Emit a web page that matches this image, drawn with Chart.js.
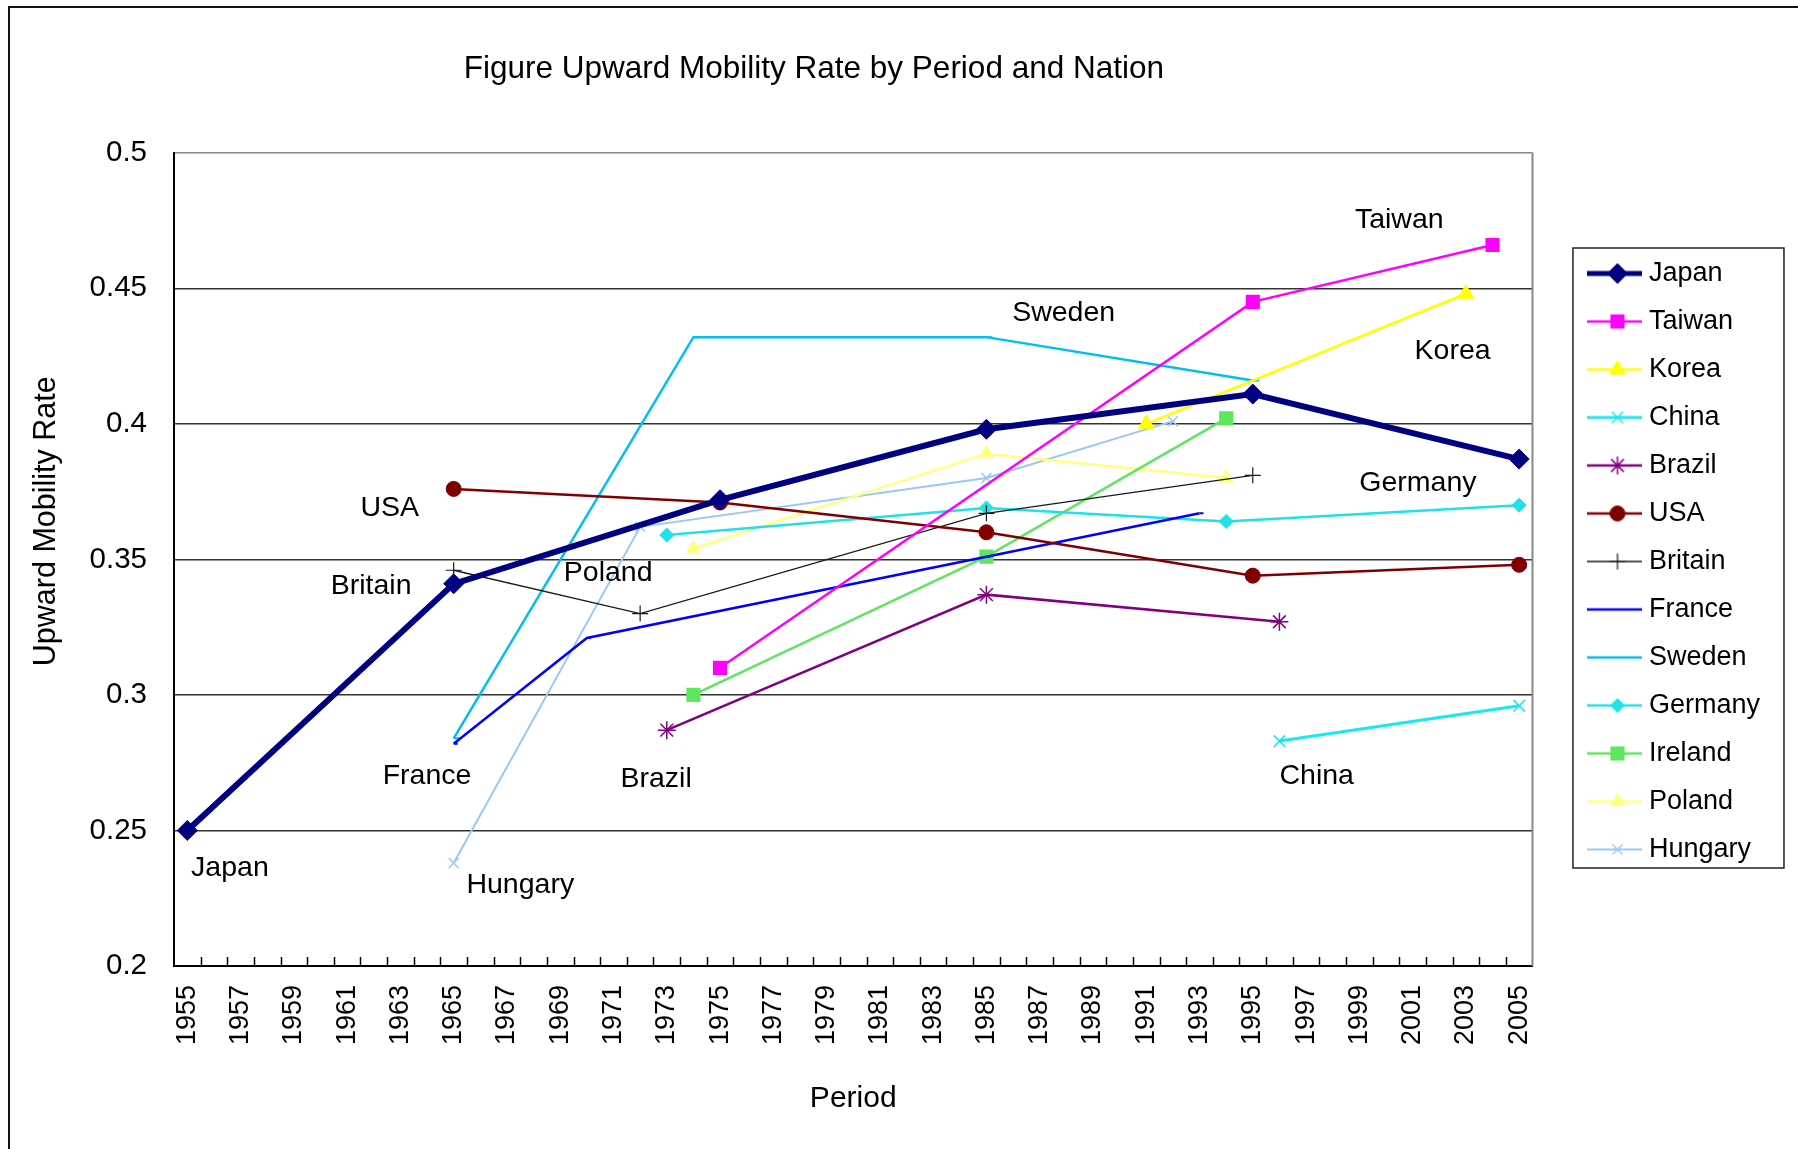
<!DOCTYPE html>
<html>
<head>
<meta charset="utf-8">
<title>Figure Upward Mobility Rate by Period and Nation</title>
<script src="https://cdn.jsdelivr.net/npm/chart.js@4.4.1/dist/chart.umd.min.js"></script>
<style>
  html, body { margin: 0; padding: 0; background: #fff; }
  #wrap { width: 1798px; height: 1149px; }
</style>
</head>
<body>
<div id="wrap"><canvas id="myChart" width="1798" height="1149"></canvas></div>
<script>
// values
const nations = ["Japan", "Taiwan", "Korea", "China", "Brazil", "USA", "Britain", "France", "Sweden", "Germany", "Ireland", "Poland", "Hungary"];

const japanYears = [1955, 1965, 1975, 1985, 1995, 2005];
const japanRates = [0.250, 0.341, 0.372, 0.398, 0.411, 0.387];
const taiwanYears = [1975, 1995, 2004];
const taiwanRates = [0.310, 0.445, 0.466];
const koreaYears = [1991, 2003];
const koreaRates = [0.400, 0.448];
const chinaYears = [1996, 2005];
const chinaRates = [0.283, 0.296];
const brazilYears = [1973, 1985, 1996];
const brazilRates = [0.287, 0.337, 0.327];
const usaYears = [1965, 1975, 1985, 1995, 2005];
const usaRates = [0.376, 0.371, 0.360, 0.344, 0.348];
const britainYears = [1965, 1972, 1985, 1995];
const britainRates = [0.346, 0.330, 0.367, 0.381];
const franceYears = [1965, 1970, 1985, 1993];
const franceRates = [0.282, 0.321, 0.351, 0.367];
const swedenYears = [1965, 1974, 1985, 1995];
const swedenRates = [0.284, 0.432, 0.432, 0.416];
const germanyYears = [1973, 1985, 1994, 2005];
const germanyRates = [0.359, 0.369, 0.364, 0.370];
const irelandYears = [1974, 1985, 1994];
const irelandRates = [0.300, 0.351, 0.402];
const polandYears = [1974, 1985, 1994];
const polandRates = [0.354, 0.389, 0.380];
const hungaryYears = [1965, 1972, 1985, 1992];
const hungaryRates = [0.238, 0.362, 0.380, 0.401];

const xTickYears = [1955, 1957, 1959, 1961, 1963, 1965, 1967, 1969, 1971, 1973, 1975, 1977, 1979,
  1981, 1983, 1985, 1987, 1989, 1991, 1993, 1995, 1997, 1999, 2001, 2003, 2005];

// the country names written inside the plot
const calloutNames = ["Taiwan", "Sweden", "Korea", "USA", "Germany", "Britain", "Poland", "France", "Brazil", "China", "Japan", "Hungary"];
const calloutYears = [2000.5, 1987.9, 2002.5, 1962.6, 2001.2, 1961.9, 1970.8, 1964.0, 1972.6, 1997.4, 1956.6, 1967.5];
const calloutRates = [0.475, 0.441, 0.427, 0.369, 0.378, 0.340, 0.345, 0.270, 0.269, 0.270, 0.236, 0.230];

const seriesYears = [japanYears, taiwanYears, koreaYears, chinaYears, brazilYears, usaYears, britainYears,
  franceYears, swedenYears, germanyYears, irelandYears, polandYears, hungaryYears];
const seriesRates = [japanRates, taiwanRates, koreaRates, chinaRates, brazilRates, usaRates, britainRates,
  franceRates, swedenRates, germanyRates, irelandRates, polandRates, hungaryRates];

const seriesStyle = {
  Japan:   { color: "#000080", width: 6,   point: "rectRot",  r: 10,  pw: 1 },
  Taiwan:  { color: "#ff00ff", width: 2.5, point: "rect",     r: 10,  pw: 0 },
  Korea:   { color: "#ffff00", width: 2.5, point: "triangle", r: 9,   pw: 1 },
  China:   { color: "#18e8f0", width: 3,   point: "crossRot", r: 8,   pw: 1.5 },
  Brazil:  { color: "#800080", width: 2.5, point: "star",     r: 9,   pw: 1.5 },
  USA:     { color: "#800000", width: 2.5, point: "circle",   r: 7.5, pw: 1 },
  Britain: { color: "#1a1a1a", width: 1.3, point: "cross",    r: 8,   pw: 1.2 },
  France:  { color: "#0000ff", width: 2.5, point: "dash",     r: 4,   pw: 2 },
  Sweden:  { color: "#00bff0", width: 2.5, point: "dash",     r: 6,   pw: 2 },
  Germany: { color: "#20e0e8", width: 2.5, point: "rectRot",  r: 7,   pw: 1 },
  Ireland: { color: "#5ee65e", width: 2.5, point: "rect",     r: 10,  pw: 0 },
  Poland:  { color: "#ffff80", width: 2.5, point: "triangle", r: 8,   pw: 1 },
  Hungary: { color: "#99c8f8", width: 2,   point: "crossRot", r: 7,   pw: 1.5 }
};

const FONT = "'Liberation Sans', Arial, sans-serif";
Chart.defaults.font.family = FONT;
Chart.defaults.color = "#000";

function legendIcon(s) {
  const c = document.createElement("canvas");
  c.width = 55;
  c.height = 30;
  const g = c.getContext("2d");
  g.strokeStyle = s.color;
  g.fillStyle = s.color;
  g.lineWidth = Math.min(s.width, 5);
  g.beginPath();
  g.moveTo(0, 15);
  g.lineTo(55, 15);
  g.stroke();
  g.lineWidth = s.pw;
  if (Chart.helpers && Chart.helpers.drawPoint) {
    Chart.helpers.drawPoint(g, { pointStyle: s.point, radius: s.r, borderWidth: s.pw, rotation: 0 }, 30, 15);
  }
  return c;
}

const datasets = nations.map((name, i) => {
  const s = seriesStyle[name];
  return {
    label: name,
    data: seriesYears[i].map((yr, k) => ({ x: yr, y: seriesRates[i][k] })),
    borderColor: s.color,
    backgroundColor: s.color,
    borderWidth: s.width,
    pointStyle: s.point,
    pointRadius: s.r,
    pointHoverRadius: s.r,
    pointBorderWidth: s.pw,
    pointBackgroundColor: s.color,
    pointBorderColor: s.color,
    tension: 0
  };
});

const excelBits = {
  id: "excelBits",
  beforeDraw(chart) {
    const ctx = chart.ctx;
    ctx.save();
    ctx.fillStyle = "#fff";
    ctx.fillRect(0, 0, chart.width, chart.height);
    ctx.strokeStyle = "#111";
    ctx.lineWidth = 2;
    ctx.beginPath();
    ctx.moveTo(9, chart.height);
    ctx.lineTo(9, 7);
    ctx.lineTo(chart.width, 7);
    ctx.stroke();
    ctx.restore();
  },
  afterLayout(chart) {
    // Excel leaves a gap between the plot and the legend box
    const lg = chart.legend;
    if (lg) {
      lg.left += 41; lg.right += 41;
      lg.top -= 13; lg.bottom -= 13;
    }
  },
  beforeDatasetsDraw(chart) {
    const { ctx, chartArea, scales } = chart;
    ctx.save();
    ctx.strokeStyle = "#888";
    ctx.lineWidth = 2;
    ctx.beginPath();
    ctx.moveTo(chartArea.right, chartArea.top);
    ctx.lineTo(chartArea.right, chartArea.bottom);
    ctx.stroke();
    // inward tick marks between the years
    ctx.strokeStyle = "#000";
    ctx.lineWidth = 1.5;
    ctx.beginPath();
    for (let v = 1955.5; v < 2005; v += 1) {
      const px = Math.round(scales.x.getPixelForValue(v)) + 0.5;
      ctx.moveTo(px, chartArea.bottom);
      ctx.lineTo(px, chartArea.bottom - 9);
    }
    ctx.stroke();
    ctx.restore();
  },
  afterDatasetsDraw(chart) {
    const { ctx, scales } = chart;
    ctx.save();
    ctx.font = "28.5px " + FONT;
    ctx.fillStyle = "#000";
    ctx.textAlign = "center";
    ctx.textBaseline = "middle";
    calloutNames.forEach((name, i) => {
      ctx.fillText(name, scales.x.getPixelForValue(calloutYears[i]), scales.y.getPixelForValue(calloutRates[i]));
    });
    ctx.restore();
  },
  afterDraw(chart) {
    const lg = chart.legend;
    if (!lg || !lg.legendHitBoxes.length) return;
    const hb = lg.legendHitBoxes;
    const last = hb[hb.length - 1];
    const ctx = chart.ctx;
    ctx.save();
    ctx.strokeStyle = "#222";
    ctx.lineWidth = 1.5;
    ctx.strokeRect(lg.left - 0.5, hb[0].top - 12, 211, last.top + last.height + 5 - (hb[0].top - 12));
    ctx.restore();
  }
};

new Chart(document.getElementById("myChart"), {
  type: "line",
  data: { datasets },
  options: {
    responsive: false,
    animation: false,
    events: [],
    layout: { padding: { left: 0, right: 69, top: 0, bottom: 0 } },
    plugins: {
      tooltip: { enabled: false },
      title: {
        display: true,
        fullSize: false,
        text: "Figure Upward Mobility Rate by Period and Nation" + "         ",
        font: { size: 31.5, weight: "normal" },
        color: "#000",
        padding: { top: 50, bottom: 65 }
      },
      legend: {
        position: "right",
        maxWidth: 197,
        labels: {
          usePointStyle: true,
          pointStyleWidth: 41,
          padding: 21,
          color: "#000",
          font: { size: 27 },
          generateLabels(chart) {
            return chart.data.datasets.map((ds, i) => ({
              text: ds.label,
              pointStyle: legendIcon(seriesStyle[ds.label]),
              fillStyle: ds.borderColor,
              strokeStyle: ds.borderColor,
              lineWidth: 0,
              fontColor: "#000",
              hidden: false,
              datasetIndex: i
            }));
          }
        }
      }
    },
    scales: {
      x: {
        type: "linear",
        min: 1954.5,
        max: 2005.5,
        afterBuildTicks(s) { s.ticks = xTickYears.map(v => ({ value: v })); },
        afterFit(s) { s.height = 183; },
        grid: { display: false, drawTicks: false },
        border: { display: true, color: "#000", width: 2 },
        ticks: {
          autoSkip: false,
          minRotation: 90,
          maxRotation: 90,
          padding: 19,
          font: { size: 27 },
          color: "#000",
          callback: v => String(v)
        },
        title: {
          display: true,
          text: "Period",
          font: { size: 30 },
          color: "#000",
          padding: { top: 0, bottom: 32 }
        }
      },
      y: {
        min: 0.2,
        max: 0.5,
        afterFit(s) { s.width = 174; },
        grid: {
          drawTicks: false,
          lineWidth: 1.5,
          color: c => (c.tick && c.tick.value > 0.499 ? "#888" : "#333")
        },
        border: { display: true, color: "#000", width: 2 },
        ticks: {
          stepSize: 0.05,
          padding: 27,
          font: { size: 29.5 },
          color: "#000",
          callback: v => String(parseFloat(v.toFixed(2)))
        },
        title: {
          display: true,
          text: "         Upward Mobility Rate",
          font: { size: 30.5 },
          color: "#000",
          padding: { top: 28, bottom: 0 }
        }
      }
    }
  },
  plugins: [excelBits]
});
</script>
</body>
</html>
